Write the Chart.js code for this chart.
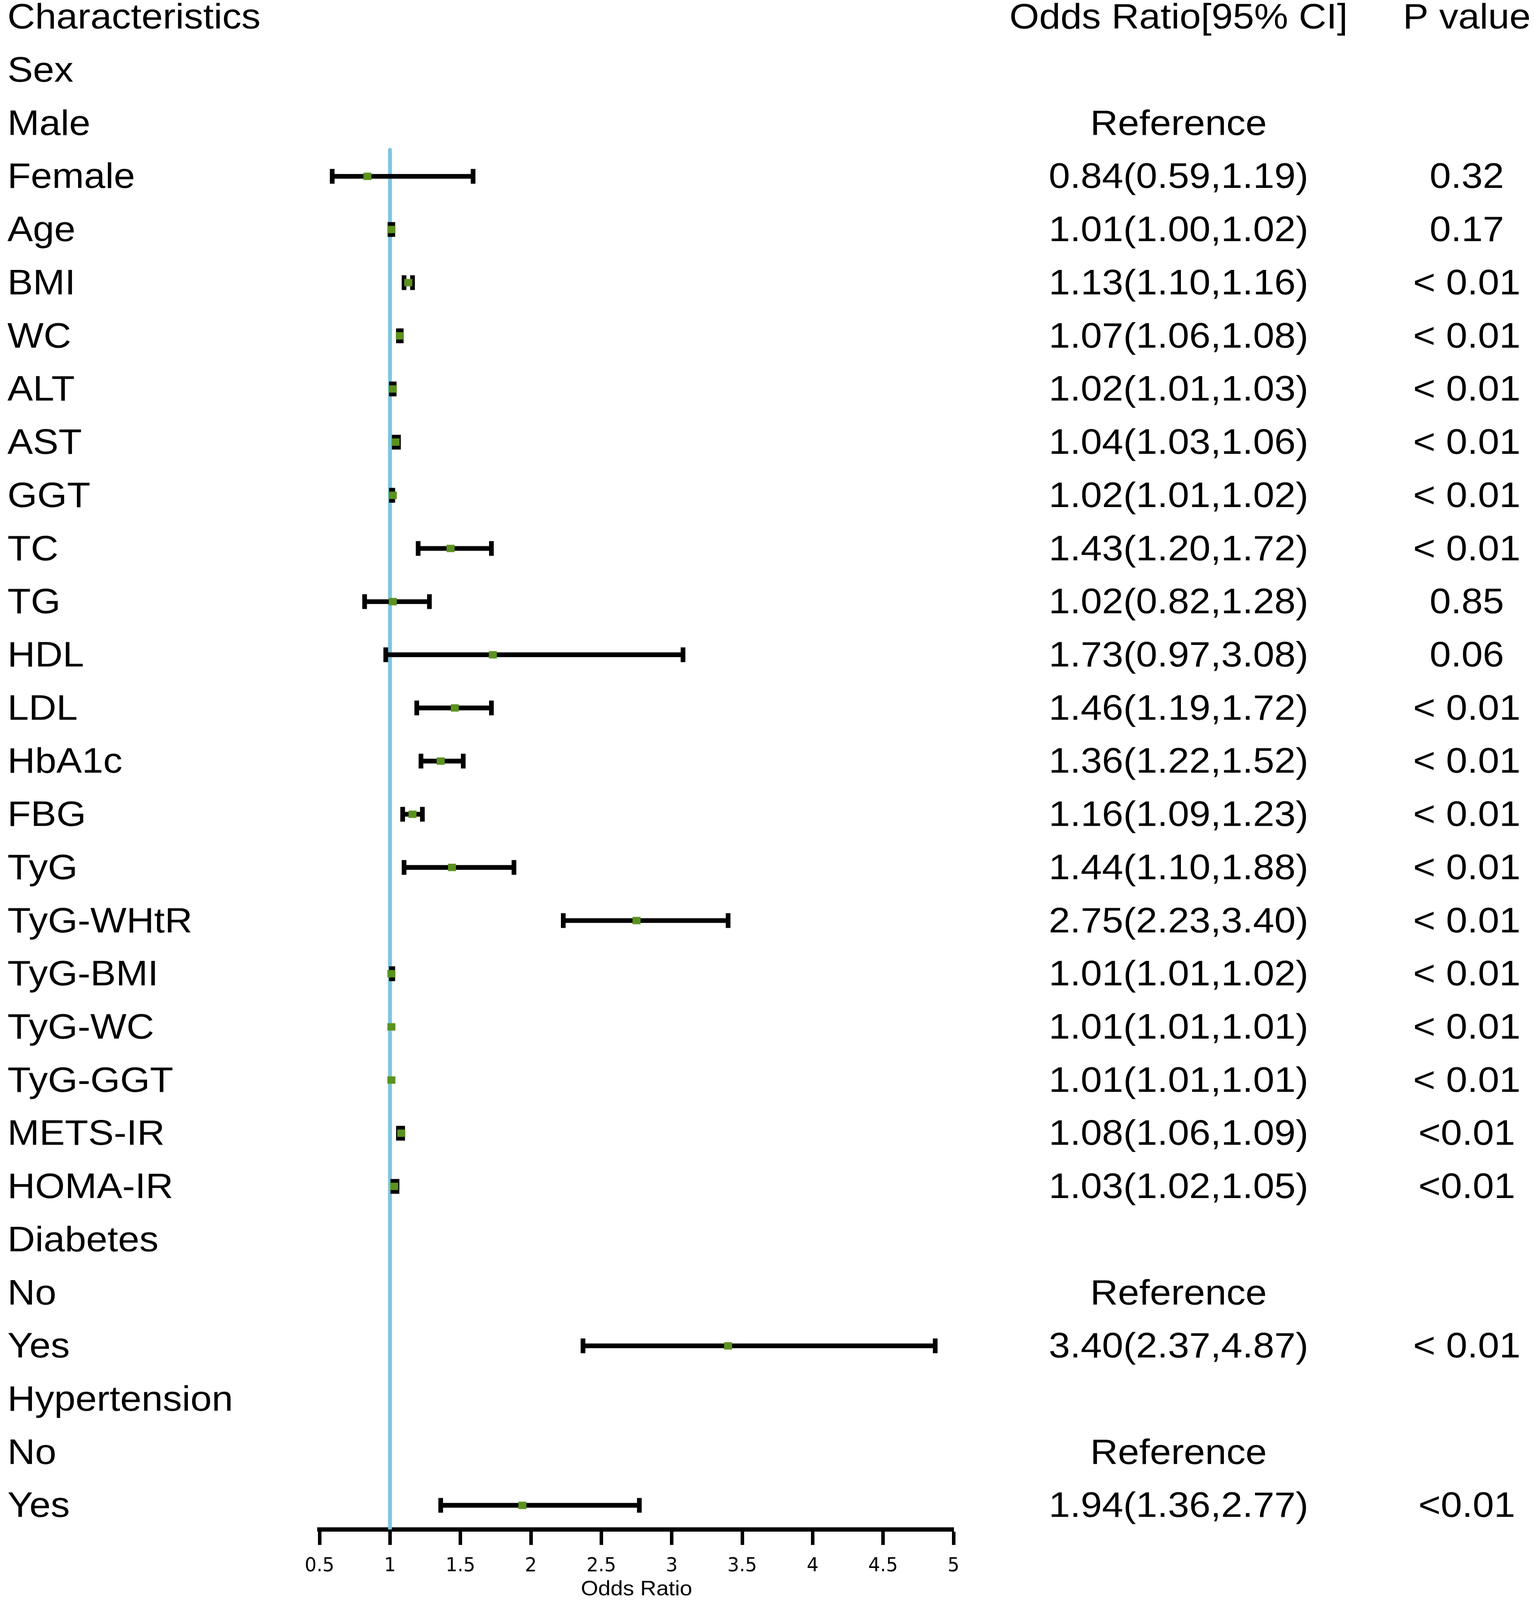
<!DOCTYPE html>
<html>
<head>
<meta charset="utf-8">
<script src="https://cdn.jsdelivr.net/npm/chart.js@4.4.0/dist/chart.umd.min.js"></script>
<style>
  html, body { margin: 0; padding: 0; background: #fff; overflow: hidden; }
  canvas { display: block; }
</style>
</head>
<body>
<canvas id="forest" width="3927" height="4446"></canvas>
<script>
// one entry per row of the table, top to bottom
var rowLabels = ['Characteristics', 'Sex', 'Male', 'Female', 'Age', 'BMI', 'WC', 'ALT', 'AST', 'GGT',
    'TC', 'TG', 'HDL', 'LDL', 'HbA1c', 'FBG', 'TyG', 'TyG-WHtR', 'TyG-BMI', 'TyG-WC', 'TyG-GGT',
    'METS-IR', 'HOMA-IR', 'Diabetes', 'No', 'Yes', 'Hypertension', 'No', 'Yes'];

var orText = ['Odds Ratio[95% CI]', '', 'Reference', '0.84(0.59,1.19)', '1.01(1.00,1.02)', '1.13(1.10,1.16)',
    '1.07(1.06,1.08)', '1.02(1.01,1.03)', '1.04(1.03,1.06)', '1.02(1.01,1.02)', '1.43(1.20,1.72)',
    '1.02(0.82,1.28)', '1.73(0.97,3.08)', '1.46(1.19,1.72)', '1.36(1.22,1.52)', '1.16(1.09,1.23)',
    '1.44(1.10,1.88)', '2.75(2.23,3.40)', '1.01(1.01,1.02)', '1.01(1.01,1.01)', '1.01(1.01,1.01)',
    '1.08(1.06,1.09)', '1.03(1.02,1.05)', '', 'Reference', '3.40(2.37,4.87)', '', 'Reference', '1.94(1.36,2.77)'];

var pText = ['P value', '', '', '0.32', '0.17', '< 0.01', '< 0.01', '< 0.01', '< 0.01', '< 0.01', '< 0.01',
    '0.85', '0.06', '< 0.01', '< 0.01', '< 0.01', '< 0.01', '< 0.01', '< 0.01', '< 0.01', '< 0.01',
    '<0.01', '<0.01', '', '', '< 0.01', '', '', '<0.01'];

// values as drawn in the plot (null = nothing drawn on that row)
var oddsRatio = [null, null, null, 0.84, 1.01, 1.13, 1.07, 1.02, 1.04, 1.02, 1.43, 1.02, 1.73, 1.46, 1.36,
    1.16, 1.44, 2.75, 1.01, 1.01, 1.01, 1.08, 1.03, null, null, 3.40, null, null, 1.94];
var ciLow = [null, null, null, 0.59, 1.00, 1.10, 1.06, 1.01, 1.03, 1.01, 1.20, 0.82, 0.97, 1.19, 1.22,
    1.09, 1.10, 2.23, 1.01, null, null, 1.06, 1.02, null, null, 2.37, null, null, 1.36];
var ciHigh = [null, null, null, 1.59, 1.02, 1.16, 1.08, 1.03, 1.06, 1.02, 1.72, 1.28, 3.08, 1.72, 1.52,
    1.23, 1.88, 3.40, 1.02, null, null, 1.09, 1.05, null, null, 4.87, null, null, 2.77];

var xTickLabels = ['0.5', '1', '1.5', '2', '2.5', '3', '3.5', '4', '4.5', '5'];
var xTitle = 'Odds Ratio';
var refValue = 1;

var Y_MIN = -0.3168, Y_MAX = 28.454;

var pointData = [], capData = [], barData = [];
rowLabels.forEach(function(label, i) {
    if (oddsRatio[i] !== null) {
        pointData.push({ x: oddsRatio[i], y: i });
    }
    if (ciLow[i] !== null) {
        capData.push({ x: ciLow[i], y: i });
        capData.push({ x: ciHigh[i], y: i });
        barData.push({ x: [ciLow[i], ciHigh[i]], y: i });
    }
});

var SANS = '"Liberation Sans", Arial, sans-serif';
var NARROW = '"Liberation Sans Narrow", "Arial Narrow", "DejaVu Sans Condensed", sans-serif';

// the three text columns, placed on the rows of the y scale
var tableText = {
    id: 'tableText',
    afterDraw: function(chart) {
        var ctx = chart.ctx;
        var yScale = chart.scales.y;
        ctx.save();
        ctx.fillStyle = '#000';
        ctx.font = '98px ' + SANS;
        ctx.textBaseline = 'middle';
        rowLabels.forEach(function(label, i) {
            var py = yScale.getPixelForValue(i) + 5.5;
            ctx.textAlign = 'left';
            ctx.fillText(label, 19, py);
            ctx.textAlign = 'center';
            ctx.fillText(orText[i], 3017, py);
            ctx.fillText(pText[i], 3755, py);
        });
        ctx.restore();
    }
};

var canvas = document.getElementById('forest');
// the drawing is laid out at 3927x4446 and shown to fill the viewport
canvas.style.width = (window.innerWidth || 3927) + 'px';
canvas.style.height = (window.innerHeight || 4446) + 'px';

var chart = new Chart(canvas.getContext('2d'), {
    type: 'scatter',
    data: {
        datasets: [{
            // odds ratio markers
            data: pointData,
            pointStyle: 'rect',
            pointRadius: 14.5,
            pointBackgroundColor: '#5B921F',
            pointBorderWidth: 0
        }, {
            // whisker caps
            data: capData,
            pointStyle: 'line',
            rotation: 90,
            pointRadius: 20.5,
            pointBorderColor: '#000',
            pointBorderWidth: 12
        }, {
            type: 'bar',
            indexAxis: 'y',
            data: barData,
            backgroundColor: '#000',
            borderWidth: 0,
            barThickness: 12.5,
            grouped: false
        }, {
            // null line
            type: 'line',
            data: [{ x: refValue, y: 2.5 }, { x: refValue, y: Y_MAX }],
            borderColor: '#7EC5DF',
            borderWidth: 10,
            borderCapStyle: 'round',
            pointRadius: 0
        }]
    },
    options: {
        responsive: false,
        devicePixelRatio: 1,
        animation: false,
        events: [],
        layout: {
            autoPadding: false,
            padding: { left: 818, right: 1486, top: 0, bottom: 0 }
        },
        plugins: {
            legend: { display: false },
            tooltip: { enabled: false }
        },
        scales: {
            x: {
                type: 'linear',
                position: 'bottom',
                min: 0.5,
                max: 5,
                beginAtZero: false,
                offset: false,
                afterBuildTicks: function(scale) {
                    scale.ticks = xTickLabels.map(function(t) { return { value: parseFloat(t) }; });
                },
                afterFit: function(scale) {
                    scale.height = 196;
                },
                ticks: {
                    autoSkip: false,
                    maxRotation: 0,
                    padding: 27,
                    color: '#000',
                    font: { family: NARROW, size: 53 },
                    callback: function(value, index) {
                        return xTickLabels[index];
                    }
                },
                grid: {
                    offset: false,
                    drawOnChartArea: false,
                    drawTicks: true,
                    tickLength: 43,
                    tickWidth: 9,
                    tickColor: '#000'
                },
                border: { display: true, color: '#000', width: 12 },
                title: {
                    display: true,
                    text: xTitle,
                    color: '#000',
                    font: { family: SANS, size: 57, lineHeight: 1 },
                    padding: { top: 0, bottom: 0 }
                }
            },
            y: {
                type: 'linear',
                display: false,
                reverse: true,
                offset: false,
                beginAtZero: false,
                min: Y_MIN,
                max: Y_MAX
            }
        }
    },
    plugins: [tableText]
});
</script>
</body>
</html>
